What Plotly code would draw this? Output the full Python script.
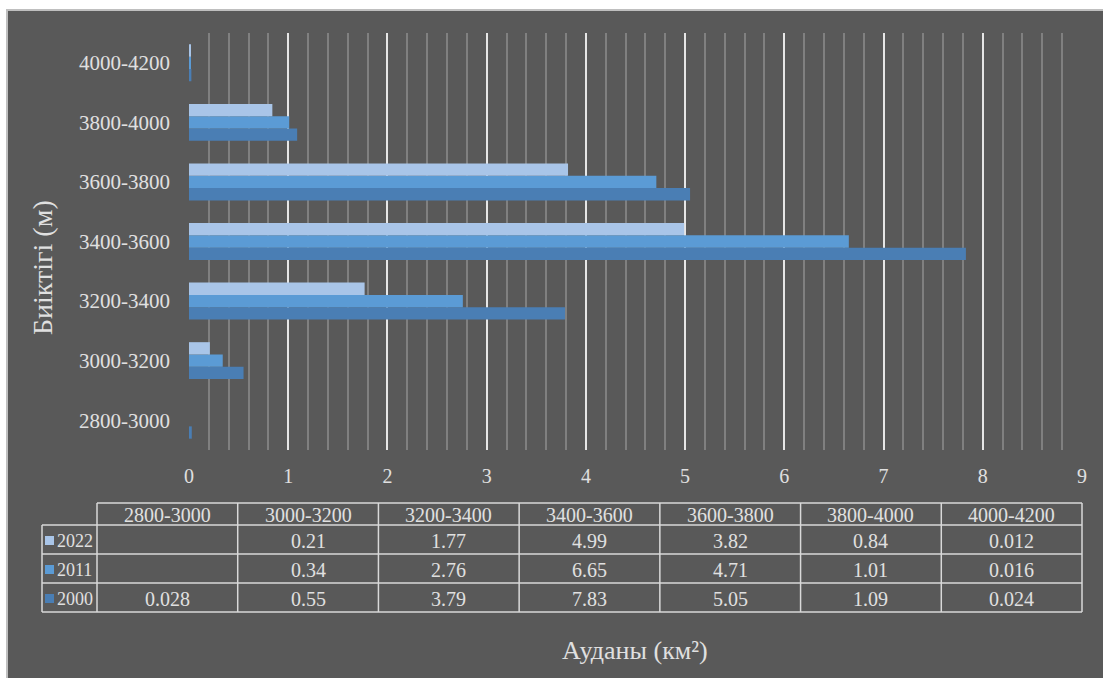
import plotly.graph_objects as go

# Elevation bands (bottom to top) and glacier area per survey year, km²
bands = ["2800-3000", "3000-3200", "3200-3400", "3400-3600", "3600-3800", "3800-4000", "4000-4200"]
years = ["2000", "2011", "2022"]
area_2000 = [0.028, 0.55, 3.79, 7.83, 5.05, 1.09, 0.024]
area_2011 = [None, 0.34, 2.76, 6.65, 4.71, 1.01, 0.016]
area_2022 = [None, 0.21, 1.77, 4.99, 3.82, 0.84, 0.012]
x_ticks = [0, 1, 2, 3, 4, 5, 6, 7, 8, 9]

series = {"2000": area_2000, "2011": area_2011, "2022": area_2022}
colors = {"2000": "#4A7EB4", "2011": "#5B9BD5", "2022": "#A9C5E8"}

W, H = 1103, 678
PL, PR, PT, PB = 189, 1082, 33, 450
FONT = "Liberation Serif, Times New Roman, serif"
TXT = "#E0E0E0"
BG = "#595959"


def fx(x):
    return (x - PL) / (PR - PL)


def fy(y):
    return (PB - y) / (PB - PT)


def label(x, y, text, size, xanchor="center", **kw):
    return dict(xref="paper", yref="paper", x=fx(x), y=fy(y), text=text, showarrow=False,
                xanchor=xanchor, yanchor="middle",
                font=dict(family=FONT, size=size, color=TXT), **kw)


fig = go.Figure()
for yr in years:
    fig.add_trace(go.Bar(
        y=bands, x=series[yr], orientation="h", name=yr,
        marker=dict(color=colors[yr], line=dict(width=0)),
        showlegend=False,
    ))

shapes = [
    # chart background panel
    dict(type="rect", xref="paper", yref="paper", layer="below",
         x0=fx(7), x1=fx(W + 5), y0=fy(10), y1=fy(H + 5),
         fillcolor=BG, line=dict(color="#BFBFBF", width=2)),
]
annotations = []

# data table under the axis
col_left = 97
col_w = (PR - col_left) / len(bands)
key_left = 42
rows_y = [503, 525, 554, 583, 612]
line = dict(color="#D9D9D9", width=1.5)

# horizontal rules
shapes.append(dict(type="line", xref="paper", yref="paper", x0=fx(col_left), x1=fx(PR),
                   y0=fy(rows_y[0]), y1=fy(rows_y[0]), line=line))
for yv in rows_y[1:]:
    shapes.append(dict(type="line", xref="paper", yref="paper", x0=fx(key_left), x1=fx(PR),
                       y0=fy(yv), y1=fy(yv), line=line))
# vertical rules
shapes.append(dict(type="line", xref="paper", yref="paper", x0=fx(key_left), x1=fx(key_left),
                   y0=fy(rows_y[1]), y1=fy(rows_y[-1]), line=line))
for i in range(len(bands) + 1):
    xv = col_left + i * col_w
    shapes.append(dict(type="line", xref="paper", yref="paper", x0=fx(xv), x1=fx(xv),
                       y0=fy(rows_y[0]), y1=fy(rows_y[-1]), line=line))

# header row
for i, b in enumerate(bands):
    annotations.append(label(col_left + (i + 0.5) * col_w, (rows_y[0] + rows_y[1]) / 2 + 1, b, 20))

# value rows, newest year on top
for r, yr in enumerate(reversed(years)):
    yc = (rows_y[r + 1] + rows_y[r + 2]) / 2 + 1
    shapes.append(dict(type="rect", xref="paper", yref="paper",
                       x0=fx(45), x1=fx(54), y0=fy(yc - 4.5), y1=fy(yc + 4.5),
                       fillcolor=colors[yr], line=dict(width=0)))
    annotations.append(label(55, yc, yr, 18, xanchor="left"))
    for i, v in enumerate(series[yr]):
        if v is None:
            continue
        annotations.append(label(col_left + (i + 0.5) * col_w, yc, str(v), 20))

# axis titles
annotations.append(label(42, 268, "Биіктігі (м)", 28, textangle=-90))
annotations.append(label(635, 650, "Ауданы (км²)", 26))

fig.update_layout(
    width=W, height=H,
    margin=dict(l=PL, r=W - PR, t=PT, b=H - PB, pad=0),
    paper_bgcolor="white",
    plot_bgcolor="rgba(0,0,0,0)",
    barmode="group", bargap=0.38, bargroupgap=0,
    font=dict(family=FONT, color=TXT),
    shapes=shapes,
    annotations=annotations,
    xaxis=dict(
        range=[0, 9], tickvals=x_ticks, showgrid=True, gridcolor="#E6E6E6", gridwidth=1.5,
        zeroline=False, showline=False, ticks="", ticklabelstandoff=12,
        tickfont=dict(family=FONT, size=20, color=TXT),
        minor=dict(dtick=0.2, showgrid=True, gridcolor="#808080", gridwidth=1.5),
    ),
    yaxis=dict(
        categoryorder="array", categoryarray=bands,
        showgrid=False, zeroline=False, showline=False, ticks="", ticklabelstandoff=18,
        tickfont=dict(family=FONT, size=21, color=TXT),
    ),
)

fig.write_html("out.html")
